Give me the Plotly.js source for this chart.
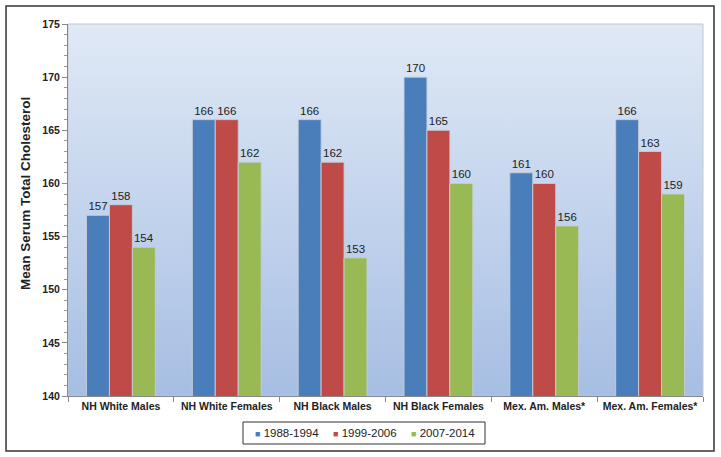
<!DOCTYPE html>
<html>
<head>
<meta charset="utf-8">
<script src="https://cdn.plot.ly/plotly-3.0.1.min.js"></script>
<style>html,body{margin:0;padding:0;background:#fff;}#chart{width:721px;height:457px;}</style>
</head>
<body>
<div id="chart"></div>
<script>
const categories = ["NH White Males", "NH White Females", "NH Black Males", "NH Black Females", "Mex. Am. Males*", "Mex. Am. Females*"];
const seriesNames = ["1988-1994", "1999-2006", "2007-2014"];
const values1988 = [157, 166, 166, 170, 161, 166];
const values1999 = [158, 166, 162, 165, 160, 163];
const values2007 = [154, 162, 153, 160, 156, 159];
const yTicks = [140, 145, 150, 155, 160, 165, 170, 175];
const colors = ["#4a7ebb", "#be4b48", "#98b954"];
const yTitle = "Mean Serum Total Cholesterol";

const FONT = "Liberation Sans, Arial, sans-serif";
const allValues = [values1988, values1999, values2007];
const traces = allValues.map((vals, i) => ({
  type: "bar",
  name: seriesNames[i],
  x: categories,
  y: vals,
  base: 0,
  text: vals.map(String),
  textposition: "outside",
  cliponaxis: false,
  textfont: {family: FONT, size: 11.5, color: "#222"},
  marker: {color: colors[i], line: {color: "rgba(200,205,215,0.9)", width: 1}},
  showlegend: false,
  hoverinfo: "skip"
}));

const grad = 'data:image/svg+xml;utf8,' + encodeURIComponent(
  '<svg xmlns="http://www.w3.org/2000/svg" width="100" height="100" preserveAspectRatio="none">' +
  '<defs><linearGradient id="g" x1="0" y1="0" x2="0" y2="1">' +
  '<stop offset="0" stop-color="#e0e9f6"/><stop offset="1" stop-color="#a6bee3"/></linearGradient></defs>' +
  '<rect width="100" height="100" fill="url(#g)"/></svg>');

// custom legend (small squares like the original)
const legendX = [0.345, 0.467, 0.590];
const legendAnn = seriesNames.map((name, i) => ({
  xref: "paper", yref: "paper", x: legendX[i], y: -0.0995,
  xanchor: "center", yanchor: "middle", showarrow: false,
  text: '<span style="color:' + colors[i] + ';font-size:9px">■</span> ' + name,
  font: {family: FONT, size: 11.5, color: "#222"}
}));

const layout = {
  width: 721, height: 457,
  margin: {l: 68, r: 18, t: 24, b: 61},
  paper_bgcolor: "#ffffff",
  plot_bgcolor: "rgba(0,0,0,0)",
  barmode: "group",
  bargap: 0.35,
  bargroupgap: 0,
  font: {family: FONT, color: "#222"},
  showlegend: false,
  xaxis: {
    type: "category",
    tickson: "boundaries",
    tickangle: 0,
    automargin: false,
    ticks: "outside", ticklen: 5, tickcolor: "#888",
    showline: true, linecolor: "#888", linewidth: 1,
    showgrid: false,
    tickfont: {size: 10.5, color: "#222", family: FONT, weight: "bold"}
  },
  yaxis: {
    range: [140, 175],
    tickvals: yTicks,
    ticktext: yTicks.map(String),
    automargin: false,
    ticks: "outside", ticklen: 5, tickcolor: "#888",
    minor: {dtick: 1, ticks: "outside", ticklen: 3, tickcolor: "#999", showgrid: false},
    showline: true, linecolor: "#888", linewidth: 1,
    showgrid: false, zeroline: false,
    tickfont: {size: 10.5, color: "#222", weight: "bold"}
  },
  annotations: [{
    xref: "paper", yref: "paper", x: -0.0677, y: 0.543,
    xanchor: "center", yanchor: "middle", textangle: -90, showarrow: false,
    text: yTitle, font: {family: FONT, size: 13.5, color: "#222", weight: "bold"}
  }].concat(legendAnn),
  images: [{
    source: grad, xref: "paper", yref: "paper", x: 0, y: 1, sizex: 1, sizey: 1,
    sizing: "stretch", layer: "below", xanchor: "left", yanchor: "top"
  }],
  shapes: [{
    type: "rect", xref: "paper", yref: "paper", layer: "below",
    x0: 0, x1: 1, y0: 0, y1: 1,
    line: {color: "#c4c8d0", width: 1}, fillcolor: "rgba(0,0,0,0)"
  }, {
    type: "rect", xref: "paper", yref: "paper",
    x0: -0.0976, x1: 1.0173, y0: -0.1478, y1: 1.0484,
    line: {color: "#333", width: 1.5}, fillcolor: "rgba(0,0,0,0)"
  }, {
    type: "rect", xref: "paper", yref: "paper",
    x0: 0.2756, x1: 0.6567, y0: -0.129, y1: -0.0699,
    line: {color: "#333", width: 1}, fillcolor: "#ffffff"
  }]
};

Plotly.newPlot("chart", traces, layout, {displayModeBar: false, staticPlot: true});
</script>
</body>
</html>
